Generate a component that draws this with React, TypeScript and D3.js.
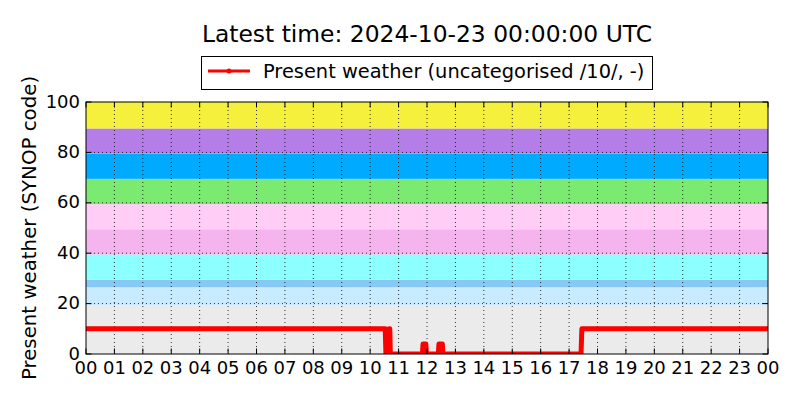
import React from "react";
import * as d3 from "d3";

// Time in hours (UTC) since 2024-10-22 00:00 and present weather SYNOP code
const hours = [0, 10.53, 10.555, 10.65, 10.67, 10.69, 10.71, 11.84, 11.86, 11.96, 11.98, 12.4, 12.42, 12.54, 12.56, 17.42, 17.45, 24];
const weatherCode = [10, 10, 0, 0, 10, 10, 0, 0, 4, 4, 0, 0, 4, 4, 0, 0, 10, 10];

const hourTicks = d3.range(0, 25);
const hourTickLabels = ["00","01","02","03","04","05","06","07","08","09","10","11","12","13","14","15","16","17","18","19","20","21","22","23","00"];
const yTicks = [0, 20, 40, 60, 80, 100];
const yGrid = [20, 40, 60, 80];

const bandLower = [0, 19.5, 26.5, 29.5, 39.5, 49.5, 59.5, 69.5, 79.5, 89.5];
const bandUpper = [19.5, 26.5, 29.5, 39.5, 49.5, 59.5, 69.5, 79.5, 89.5, 100];
const bandColors = ["#EBEBEB", "#C8EBFF", "#87C8F5", "#8CFFFF", "#F5B4EE", "#FFCDF5", "#7AEB70", "#00AAFF", "#B47DE8", "#F5F03C"];

const titleText = "Latest time: 2024-10-23 00:00:00 UTC";
const legendLabel = "Present weather (uncategorised /10/, -)";
const yLabel = "Present weather (SYNOP code)";

export default function App() {
  const W = 800, H = 400;
  const left = 86, top = 102, right = 768, bottom = 354;
  const x = d3.scaleLinear().domain([0, 24]).range([left, right]);
  const y = d3.scaleLinear().domain([0, 100]).range([bottom, top]);
  const pts = hours.map((h, i) => [h, weatherCode[i]] as [number, number]);
  const line = d3.line<[number, number]>().x(d => x(d[0])).y(d => y(d[1]));
  const font = "'DejaVu Sans', sans-serif";
  const tick = 5.5;
  const tickFont = 18;
  return (
    <svg width={W} height={H} style={{ position: "absolute", left: 0, top: 0, background: "#fff" }} fontFamily={font}>
      <defs>
        <clipPath id="plotclip">
          <rect x={left} y={top} width={right - left} height={bottom - top} />
        </clipPath>
      </defs>
      <rect x={0} y={0} width={W} height={H} fill="#fff" />
      {bandLower.map((lo, i) => (
        <rect key={i} x={left} width={right - left} y={y(bandUpper[i])} height={y(lo) - y(bandUpper[i])} fill={bandColors[i]} />
      ))}
      {hourTicks.slice(1, -1).map(h => (
        <line key={"gx" + h} x1={x(h)} x2={x(h)} y1={top} y2={bottom} stroke="#000" strokeWidth={0.8} strokeDasharray="1,3" />
      ))}
      {yGrid.map(v => (
        <line key={"gy" + v} x1={left} x2={right} y1={y(v)} y2={y(v)} stroke="#000" strokeWidth={0.8} strokeDasharray="1,3" />
      ))}
      <g clipPath="url(#plotclip)">
        <path d={line(pts) || ""} fill="none" stroke="#FF0000" strokeWidth={5} strokeLinejoin="round" strokeLinecap="round" />
      </g>
      {hourTicks.map(h => (
        <g key={"tx" + h}>
          <line x1={x(h)} x2={x(h)} y1={bottom} y2={bottom - tick} stroke="#000" strokeWidth={1} />
          <line x1={x(h)} x2={x(h)} y1={top} y2={top + tick} stroke="#000" strokeWidth={1} />
          <text x={x(h)} y={374} textAnchor="middle" fontSize={tickFont} fill="#000">{hourTickLabels[h]}</text>
        </g>
      ))}
      {yTicks.map(v => (
        <g key={"ty" + v}>
          <line x1={left} x2={left + tick} y1={y(v)} y2={y(v)} stroke="#000" strokeWidth={1} />
          <line x1={right} x2={right - tick} y1={y(v)} y2={y(v)} stroke="#000" strokeWidth={1} />
          <text x={80} y={y(v) + 5.5} textAnchor="end" fontSize={tickFont} fill="#000">{v}</text>
        </g>
      ))}
      <rect x={left} y={top} width={right - left} height={bottom - top} fill="none" stroke="#000" strokeWidth={1} />
      <text x={(left + right) / 2} y={42} textAnchor="middle" fontSize={23.4} fill="#000">{titleText}</text>
      <text transform={`translate(36,${(top + bottom) / 2}) rotate(-90)`} textAnchor="middle" fontSize={19.8} fill="#000">{yLabel}</text>
      <rect x={201.5} y={56.5} width={451} height={33} fill="#fff" stroke="#000" strokeWidth={1} />
      <line x1={208} x2={250} y1={71} y2={71} stroke="#FF0000" strokeWidth={3} />
      <circle cx={229} cy={71} r={2.5} fill="#FF0000" />
      <text x={263} y={78} fontSize={19.4} fill="#000">{legendLabel}</text>
    </svg>
  );
}
